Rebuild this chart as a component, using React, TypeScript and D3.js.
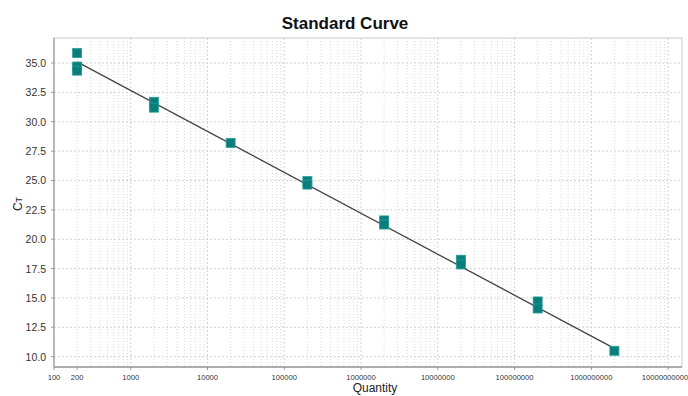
import React from "react";
import * as d3 from "d3";

const quantities = [200, 200, 200, 2000, 2000, 20000, 200000, 200000, 2000000, 2000000, 20000000, 20000000, 200000000, 200000000, 2000000000];
const ctValues = [35.85, 34.7, 34.35, 31.7, 31.2, 28.2, 24.95, 24.65, 21.6, 21.25, 18.25, 17.85, 14.7, 14.1, 10.5];
const fitQuantities = [200, 2000000000];
const fitCt = [35.1, 10.7];
const yTicks = [10.0, 12.5, 15.0, 17.5, 20.0, 22.5, 25.0, 27.5, 30.0, 32.5, 35.0];
const xTickLabels = [100, 200, 1000, 10000, 100000, 1000000, 10000000, 100000000, 1000000000, 10000000000];

export default function App() {
  const W = 688, H = 396;
  const left = 54, right = 682, top = 38, bottom = 367;
  const x = d3.scaleLog().domain([100, 1.52e10]).range([left, right]);
  const y = d3.scaleLinear().domain([9.12, 37.13]).range([bottom, top]);

  const minor: number[] = [];
  for (let e = 2; e <= 10; e++) {
    for (let m = 2; m <= 9; m++) {
      const v = m * Math.pow(10, e);
      if (v < 1.52e10) minor.push(v);
    }
  }
  const major: number[] = [];
  for (let e = 3; e <= 10; e++) major.push(Math.pow(10, e));

  const line = d3.line<number>().x((d, i) => x(fitQuantities[i])).y((d) => y(d));
  const ms = 9;

  return (
    <svg width={W} height={H} style={{ position: "absolute", left: 0, top: 0, background: "#fff" }} fontFamily="Arial, 'Liberation Sans', sans-serif">
      <rect x={0} y={0} width={W} height={H} fill="#fff" />
      <text x={345} y={29} textAnchor="middle" fontSize={17} fontWeight="bold" fill="#111">Standard Curve</text>
      {minor.map((v, i) => (
        <line key={"mn" + i} x1={x(v)} x2={x(v)} y1={top} y2={bottom} stroke="#dadada" strokeWidth={1} strokeDasharray="1,2" />
      ))}
      {major.map((v, i) => (
        <line key={"mj" + i} x1={x(v)} x2={x(v)} y1={top} y2={bottom} stroke="#d2d2d2" strokeWidth={1} strokeDasharray="2,2" />
      ))}
      {yTicks.map((t, i) => (
        <line key={"hy" + i} x1={left} x2={right} y1={y(t)} y2={y(t)} stroke="#d2d2d2" strokeWidth={1} strokeDasharray="2,2" />
      ))}
      <rect x={left} y={top} width={right - left} height={bottom - top} fill="none" stroke="#cccccc" strokeWidth={1} />
      <line x1={left} x2={left} y1={top} y2={bottom} stroke="#9a9a9a" strokeWidth={1.2} />
      <line x1={left} x2={right} y1={bottom} y2={bottom} stroke="#9a9a9a" strokeWidth={1.5} />
      {yTicks.map((t, i) => (
        <g key={"yt" + i}>
          <line x1={left - 3} x2={left} y1={y(t)} y2={y(t)} stroke="#9a9a9a" />
          <text x={left - 8} y={y(t) + 4} textAnchor="end" fontSize={10.5} fill="#333">{t.toFixed(1)}</text>
        </g>
      ))}
      {xTickLabels.map((t, i) => (
        <g key={"xt" + i}>
          <line x1={x(t)} x2={x(t)} y1={bottom} y2={bottom + 3} stroke="#9a9a9a" />
          <text x={i === xTickLabels.length - 1 ? Math.min(x(t), 686 - 21) : x(t)} y={bottom + 13} textAnchor="middle" fontSize={7.6} fill="#333">{String(t)}</text>
        </g>
      ))}
      <path d={line(fitCt) || ""} fill="none" stroke="#444" strokeWidth={1.3} />
      {quantities.map((q, i) => (
        <rect key={"p" + i} x={x(q) - ms / 2} y={y(ctValues[i]) - ms / 2} width={ms} height={ms} fill="#0b7d7b" stroke="#23a09c" strokeWidth={0.8} />
      ))}
      <text x={375} y={392} textAnchor="middle" fontSize={12} fill="#222">Quantity</text>
      <text transform="translate(22,204) rotate(-90)" textAnchor="middle" fontSize={12} fill="#222">C<tspan fontSize={9}>T</tspan></text>
    </svg>
  );
}
